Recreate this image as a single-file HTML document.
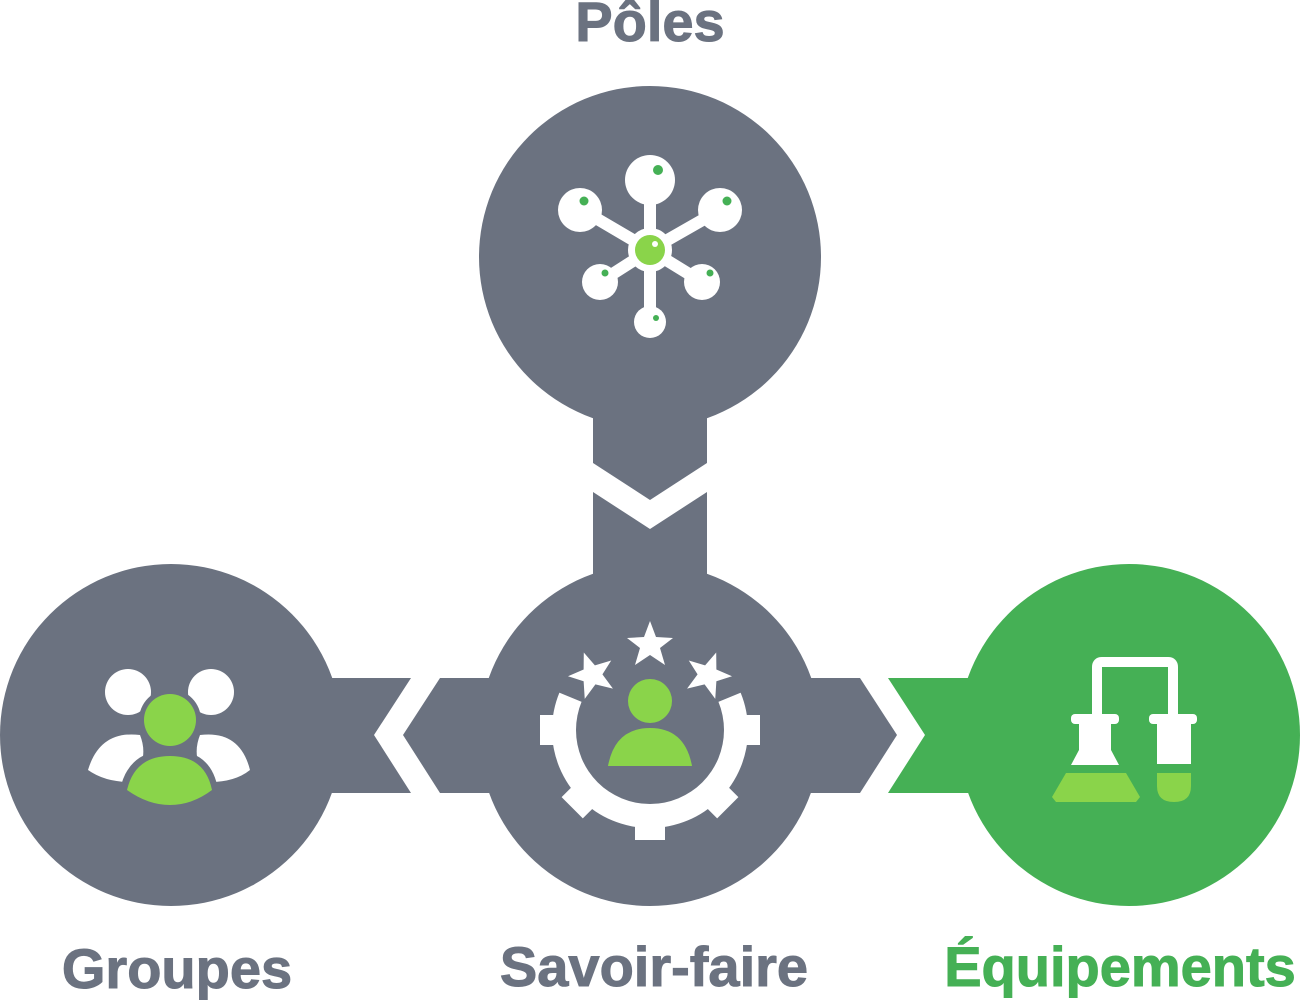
<!DOCTYPE html>
<html><head><meta charset="utf-8"><style>
html,body{margin:0;padding:0;background:#fff;width:1300px;height:1000px;overflow:hidden}
svg{display:block}
text{font-family:"Liberation Sans",sans-serif;font-weight:bold}
</style></head><body>
<svg width="1300" height="1000" viewBox="0 0 1300 1000">
<defs>
<clipPath id="gapclip"><path d="M0,0 H1300 V1000 H0 Z M650,730 L480,660 L480,560 L820,560 L820,660 Z" clip-rule="evenodd"/></clipPath>
</defs>
<g fill="#6b7280">
<circle cx="650" cy="257" r="171"/>
<polygon points="593,400 707,400 707,463 650,500 593,463"/>
<circle cx="171" cy="735" r="171"/>
<polygon points="300,678 411,678 374,735 411,793 300,793"/>
<circle cx="650" cy="735" r="171"/>
<polygon points="593,492 650,529 707,492 707,600 593,600"/>
<polygon points="500,678 440,678 403,735 440,793 500,793"/>
<polygon points="800,678 860,678 897,735 860,793 800,793"/>
</g>
<g fill="#45b055">
<circle cx="1129" cy="735" r="171"/>
<polygon points="888,678 990,678 990,793 888,793 925,735"/>
</g>
<text x="650" y="41" font-size="56" fill="#6b7280" text-anchor="middle" stroke="#6b7280" stroke-width="1">Pôles</text>
<text x="177" y="988" font-size="56" fill="#6b7280" text-anchor="middle" stroke="#6b7280" stroke-width="1">Groupes</text>
<text x="654" y="986" font-size="56" fill="#6b7280" text-anchor="middle" stroke="#6b7280" stroke-width="1">Savoir-faire</text>
<text x="1120" y="986" font-size="56" fill="#45b055" text-anchor="middle" stroke="#45b055" stroke-width="1">Équipements</text>

<!-- molecule -->
<g stroke="#fff" stroke-width="12" stroke-linecap="round">
<line x1="650" y1="250" x2="650" y2="182"/>
<line x1="650" y1="250" x2="582" y2="210"/>
<line x1="650" y1="250" x2="720" y2="210"/>
<line x1="650" y1="250" x2="600" y2="282"/>
<line x1="650" y1="250" x2="702" y2="282"/>
<line x1="650" y1="250" x2="650" y2="322"/>
</g>
<g fill="#fff">
<circle cx="650" cy="180" r="25"/><circle cx="580" cy="210" r="22"/><circle cx="720" cy="210" r="22"/>
<circle cx="600" cy="282" r="18"/><circle cx="702" cy="282" r="18"/><circle cx="650" cy="322" r="16"/>
<circle cx="650" cy="250" r="22"/>
</g>
<circle cx="650" cy="250" r="15" fill="#8ad44a"/>
<g fill="#45b055"><circle cx="658" cy="170" r="5"/><circle cx="584" cy="201" r="4.5"/><circle cx="727" cy="201" r="4.5"/>
<circle cx="605" cy="273" r="3.5"/><circle cx="710" cy="273" r="3.5"/><circle cx="656" cy="318" r="3"/></g>
<circle cx="655" cy="244" r="3" fill="#fff"/>

<!-- groupes -->
<g fill="#fff">
<circle cx="128" cy="692" r="23"/><circle cx="211" cy="692" r="23"/>
<path d="M88,770 Q100,730 140,735 Q150,760 130,782 Q105,782 88,770 Z"/>
<path d="M250,770 Q240,730 200,735 Q190,760 210,782 Q235,782 250,770 Z"/>
</g>
<circle cx="170" cy="720" r="31" fill="#6b7280"/>
<circle cx="170" cy="720" r="26" fill="#8ad44a"/>
<path d="M120,790 Q128,750 170,750 Q212,750 218,790 Z" fill="#6b7280"/>
<path d="M127,790 Q135,756 170,756 Q205,756 212,790 Q192,805 170,805 Q148,805 127,790 Z" fill="#8ad44a"/>

<!-- gear -->
<g clip-path="url(#gapclip)" fill="#fff">
<rect x="635" y="620" width="30" height="220" transform="rotate(0 650 730)"/>
<rect x="635" y="620" width="30" height="220" transform="rotate(45 650 730)"/>
<rect x="635" y="620" width="30" height="220" transform="rotate(90 650 730)"/>
<rect x="635" y="620" width="30" height="220" transform="rotate(135 650 730)"/>
<circle cx="650" cy="730" r="98"/>
</g>
<circle cx="650" cy="730" r="74" fill="#6b7280"/>
<g fill="#fff">
<polygon points="650,621 656,637 673,638 660,648 665,665 650,655 635,665 640,648 627,638 644,637"/>
<polygon points="650,621 656,637 673,638 660,648 665,665 650,655 635,665 640,648 627,638 644,637" transform="translate(-58,30) rotate(-20 650 645)"/>
<polygon points="650,621 656,637 673,638 660,648 665,665 650,655 635,665 640,648 627,638 644,637" transform="translate(58,30) rotate(20 650 645)"/>
</g>
<circle cx="650" cy="701" r="22" fill="#8ad44a"/>
<path d="M608,766 Q615,728 650,728 Q685,728 692,766 Z" fill="#8ad44a"/>

<!-- equipements -->
<g fill="none" stroke="#fff" stroke-width="10">
<path d="M1097,718 V667 Q1097,662 1102,662 H1168 Q1173,662 1173,667 V718"/>
</g>
<g fill="#fff">
<rect x="1071" y="714" width="48" height="10" rx="4"/>
<rect x="1149" y="714" width="48" height="10" rx="4"/>
<rect x="1079" y="722" width="32" height="30"/>
<polygon points="1079,750 1111,750 1119,765 1071,765"/>
<rect x="1157" y="722" width="34" height="42"/>
</g>
<polygon points="1066,773 1126,773 1140,797 1136,802 1056,802 1052,797" fill="#8ad44a"/>
<path d="M1157,773 H1191 V786 Q1191,802 1174,802 Q1157,802 1157,786 Z" fill="#8ad44a"/>
</svg>
</body></html>
